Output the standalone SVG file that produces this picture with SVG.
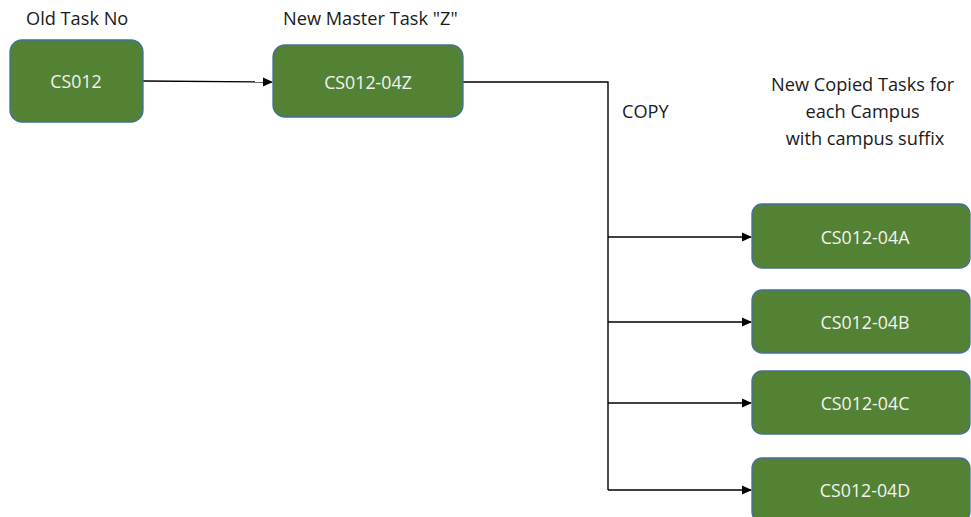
<svg xmlns="http://www.w3.org/2000/svg" width="971" height="517" viewBox="0 0 971 517">
  <style>
    .box { fill: #548235; stroke: #41719c; stroke-width: 1.3; }
    .box-text { font-family: "Open Sans", "Liberation Sans", sans-serif; font-size: 17.8px; fill: #f2f2f2; text-anchor: middle; dominant-baseline: central; }
    .label { font-family: "Open Sans", "Liberation Sans", sans-serif; font-size: 18.2px; fill: #1a1a1a; }
    .wire { fill: none; stroke: #000; stroke-width: 1.4; }
  </style>
  <defs>
    <marker id="arrow" markerWidth="10" markerHeight="10" refX="9" refY="5" orient="auto" markerUnits="userSpaceOnUse">
      <path d="M0,0.5 L10,5 L0,9.5 z" fill="#000"/>
    </marker>
  </defs>
  <rect width="971" height="517" fill="#fff"/>

  <!-- free labels -->
  <text class="label" x="26" y="25">Old Task No</text>
  <text class="label" x="283" y="25">New Master Task "Z"</text>
  <text class="label" x="622" y="118">COPY</text>
  <text class="label" x="865" text-anchor="middle">
    <tspan x="865" y="91">New Copied Tasks for</tspan>
    <tspan x="865" y="118">each Campus</tspan>
    <tspan x="865" y="145">with campus suffix</tspan>
  </text>

  <!-- connectors -->
  <g id="connectors">
    <path class="wire" d="M143,81 L272,82" marker-end="url(#arrow)"/>
    <path class="wire" d="M463,82 L608,82 L608,490"/>
    <path class="wire" d="M608,237 L751,237" marker-end="url(#arrow)"/>
    <path class="wire" d="M608,322 L751,322" marker-end="url(#arrow)"/>
    <path class="wire" d="M608,403 L751,403" marker-end="url(#arrow)"/>
    <path class="wire" d="M608,490 L751,490" marker-end="url(#arrow)"/>
  </g>

  <!-- nodes -->
  <g id="node-old">
    <rect class="box" x="10" y="40" width="133" height="82" rx="12"/>
    <text class="box-text" x="76" y="81">CS012</text>
  </g>
  <g id="node-master">
    <rect class="box" x="273" y="45" width="190" height="72" rx="12"/>
    <text class="box-text" x="368" y="82">CS012-04Z</text>
  </g>
  <g id="node-a">
    <rect class="box" x="752" y="204" width="218" height="64" rx="10"/>
    <text class="box-text" x="865" y="237">CS012-04A</text>
  </g>
  <g id="node-b">
    <rect class="box" x="752" y="290" width="218" height="63" rx="10"/>
    <text class="box-text" x="865" y="322">CS012-04B</text>
  </g>
  <g id="node-c">
    <rect class="box" x="752" y="371" width="218" height="63" rx="10"/>
    <text class="box-text" x="865" y="403">CS012-04C</text>
  </g>
  <g id="node-d">
    <rect class="box" x="752" y="458" width="218" height="64" rx="10"/>
    <text class="box-text" x="865" y="490">CS012-04D</text>
  </g>
</svg>
